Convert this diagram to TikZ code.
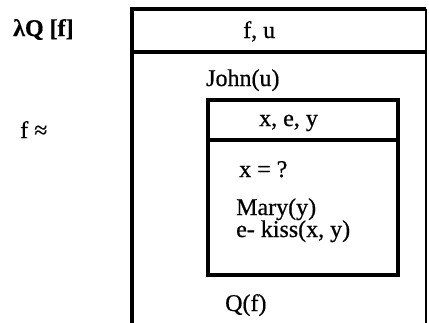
\documentclass[tikz,border=0pt]{standalone}
\usepackage{fontspec}
\setmainfont{Liberation Serif}[FakeBold=0.6]
\usepackage{tikz}
\usetikzlibrary{positioning}

\begin{document}
\begin{tikzpicture}[x=1pt, y=-1pt, node distance=4pt,
        txt/.style={font=\fontsize{24}{22}\selectfont, inner sep=0pt, anchor=base west},
        rule/.style={line width=3.2pt}]
        \useasboundingbox (0,0) rectangle (429,322);
        % outer box, open at the bottom
        \draw[rule] (132,330) -- (132,9) -- (426,9);
        \draw[line width=1.8pt] (426,9) -- (426,330);
        \draw[rule] (132,52) -- (426,52);
        % inner box
        \draw[rule] (208,100) rectangle (398,275);
        \draw[rule] (208,140) -- (398,140);

        \node[txt, font=\fontsize{24}{22}\selectfont\bfseries] (lam) at (13,36) {λQ [f]};
        \node[txt] (fu) at (243,38) {f, u};
        \node[txt] (john) at (206,86) {John(u)};
        \node[txt] (fapprox) at (20,138) {f ≈};
        \node[txt] (xey) at (259,126) {x, e, y};
        \node[txt] (xq) at (239,177) {x = ?};
        \node[txt] (mary) at (236,215) {Mary(y)};
        \node[txt, below=2pt of mary.base west, anchor=base west, yshift=-20pt] (kiss) {e- kiss(x, y)};
        \node[txt] (qf) at (225,311) {Q(f)};
\end{tikzpicture}
\end{document}
